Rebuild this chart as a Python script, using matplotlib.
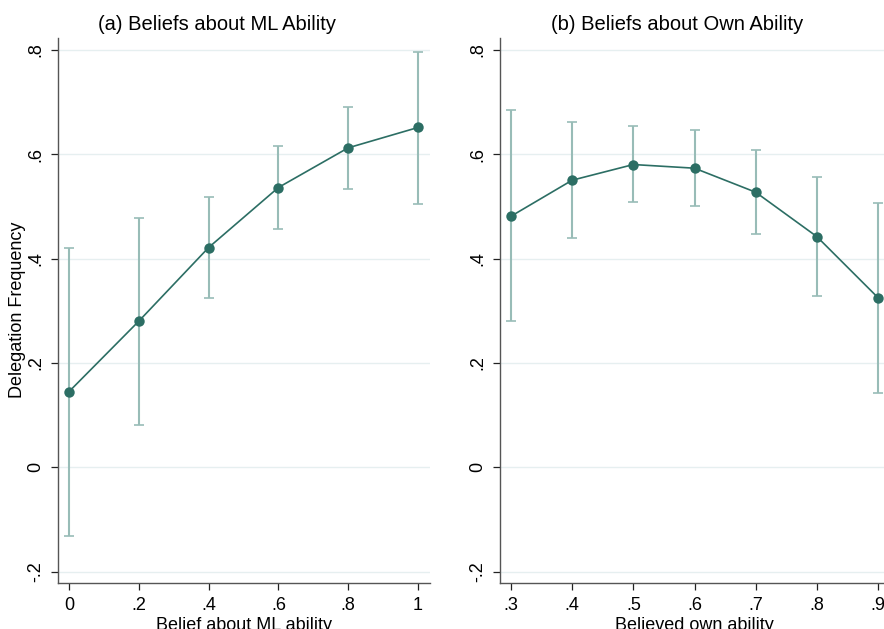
import matplotlib
matplotlib.use("Agg")
import matplotlib.pyplot as plt

# ---- data ----
ml_x = [0.0, 0.2, 0.4, 0.6, 0.8, 1.0]
ml_y = [0.145, 0.280, 0.421, 0.536, 0.612, 0.651]
ml_hi = [0.421, 0.478, 0.518, 0.616, 0.691, 0.796]
ml_lo = [-0.131, 0.082, 0.324, 0.456, 0.534, 0.505]

own_x = [0.3, 0.4, 0.5, 0.6, 0.7, 0.8, 0.9]
own_y = [0.481, 0.550, 0.580, 0.573, 0.527, 0.442, 0.325]
own_hi = [0.684, 0.661, 0.654, 0.646, 0.607, 0.557, 0.506]
own_lo = [0.280, 0.440, 0.508, 0.501, 0.447, 0.328, 0.143]

ml_xticks = [0, 0.2, 0.4, 0.6, 0.8, 1.0]
ml_xticklabels = ["0", ".2", ".4", ".6", ".8", "1"]
own_xticks = [0.3, 0.4, 0.5, 0.6, 0.7, 0.8, 0.9]
own_xticklabels = [".3", ".4", ".5", ".6", ".7", ".8", ".9"]
yticks = [-0.2, 0, 0.2, 0.4, 0.6, 0.8]
yticklabels = ["-.2", "0", ".2", ".4", ".6", ".8"]

titles = ["(a) Beliefs about ML Ability", "(b) Beliefs about Own Ability"]
xlabels = ["Belief about ML ability", "Believed own ability"]
ylabel = "Delegation Frequency"

plt.rcParams['font.family'] = ['Liberation Sans', 'DejaVu Sans']

W, H = 884, 629
fig = plt.figure(figsize=(W / 100, H / 100), dpi=100)

line_col = "#2c6e64"
err_col = "#98bcb7"
grid_col = "#e6eff0"
spine_col = "#555555"

def px_axes(x0, x1, ytop, ybot):
    return [x0 / W, 1 - ybot / H, (x1 - x0) / W, (ybot - ytop) / H]

ax1 = fig.add_axes(px_axes(58.3, 430, 38, 583))
ax2 = fig.add_axes(px_axes(500, 889, 38, 583))

panels = [
    (ax1, ml_x, ml_y, ml_lo, ml_hi, ml_xticks, ml_xticklabels, (-0.0307, 1.0344)),
    (ax2, own_x, own_y, own_lo, own_hi, own_xticks, own_xticklabels, (0.282, 0.918)),
]

for i, (ax, x, y, lo, hi, xt, xtl, xl) in enumerate(panels):
    yerr = [[yy - l for yy, l in zip(y, lo)], [h - yy for yy, h in zip(y, hi)]]
    ax.errorbar(x, y, yerr=yerr, fmt='none', ecolor=err_col, elinewidth=1.5,
                capsize=3.5, capthick=1.2, zorder=2)
    ax.plot(x, y, '-', color=line_col, lw=1.2, zorder=3)
    ax.plot(x, y, 'o', color=line_col, ms=7.5, zorder=4, markeredgewidth=0)
    ax.set_xlim(*xl)
    ax.set_ylim(-0.2216, 0.8224)
    ax.set_xticks(xt)
    ax.set_xticklabels(xtl)
    ax.set_yticks(yticks)
    ax.set_yticklabels(yticklabels)
    for yy in yticks:
        ax.axhline(yy, color=grid_col, lw=1.0, zorder=1)
    for s in ['top', 'right']:
        ax.spines[s].set_visible(False)
    for s in ['left', 'bottom']:
        ax.spines[s].set_color(spine_col)
        ax.spines[s].set_linewidth(1.0)
    ax.tick_params(axis='both', direction='out', length=5, width=0.9,
                   color='#222222', labelsize=13, pad=5)
    ax.tick_params(axis='y', labelrotation=90)
    for lab in ax.get_yticklabels():
        lab.set_va('center')
    ax.set_xlabel(xlabels[i], fontsize=13, labelpad=2)

fig.text(217 / W, 1 - 25 / H, titles[0], ha='center', va='center', fontsize=14.5)
fig.text(677.5 / W, 1 - 25 / H, titles[1], ha='center', va='center', fontsize=14.5)
fig.text(17.5 / W, 1 - 310 / H, ylabel, ha='center', va='center', rotation=90, fontsize=13)

fig.savefig("out.png", dpi=100)
